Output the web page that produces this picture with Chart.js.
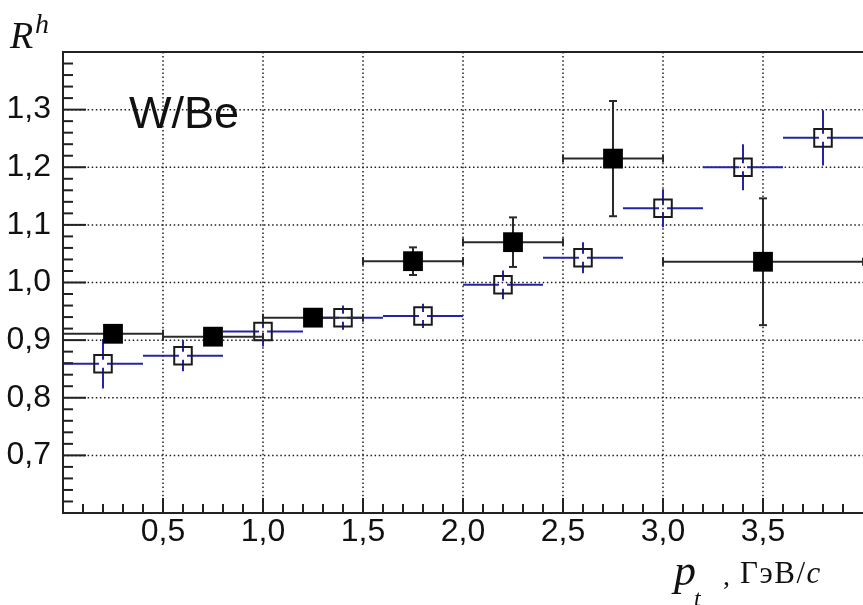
<!DOCTYPE html>
<html>
<head>
<meta charset="utf-8">
<title>R^h W/Be</title>
<script src="https://cdn.jsdelivr.net/npm/chart.js@4.4.1/dist/chart.umd.min.js"></script>
<style>
  body { margin: 0; background: #fff; overflow: hidden; }
  #wrap { position: relative; width: 863px; height: 605px; overflow: hidden; }
  .t { position: absolute; white-space: nowrap; line-height: 1; color: #111; }
  .serif { font-family: 'Liberation Serif', 'DejaVu Serif', serif; }
  .sans { font-family: 'Liberation Sans', Arial, sans-serif; }
  i { font-style: italic; }
</style>
</head>
<body>
<div id="wrap">
  <canvas id="rhChart" width="863" height="605"></canvas>
  <div class="t serif" style="left:10px;top:16px;font-size:38px;"><i>R</i></div>
  <div class="t serif" style="left:35px;top:10px;font-size:28px;"><i>h</i></div>
  <div class="t sans" style="left:129px;top:90px;font-size:45px;">W/Be</div>
  <div class="t serif" style="left:674px;top:549px;font-size:44px;"><i>p</i></div>
  <div class="t serif" style="left:694px;top:586px;font-size:24px;"><i>t</i></div>
  <div class="t serif" style="left:723px;top:562px;font-size:28px;">,</div>
  <div class="t serif" style="left:740px;top:557px;font-size:31px;letter-spacing:1.5px;">ГэВ/<i>c</i></div>
</div>
<script>
// tick labels
const xTicks = [0.5, 1.0, 1.5, 2.0, 2.5, 3.0, 3.5];
const yTicks = [0.7, 0.8, 0.9, 1.0, 1.1, 1.2, 1.3];

// filled squares (black error bars)
const blackX    = [0.25, 0.75, 1.25, 1.75, 2.25, 2.75, 3.5];
const blackXErr = [0.25, 0.25, 0.25, 0.25, 0.25, 0.25, 0.5];
const blackY    = [0.911, 0.906, 0.939, 1.037, 1.070, 1.215, 1.036];
const blackYErr = [0.010, 0.010, 0.010, 0.024, 0.043, 0.100, 0.110];

// open squares (blue error bars)
const blueX    = [0.2, 0.6, 1.0, 1.4, 1.8, 2.2, 2.6, 3.0, 3.4, 3.8];
const blueXErr = [0.2, 0.2, 0.2, 0.2, 0.2, 0.2, 0.2, 0.2, 0.2, 0.2];
const blueY    = [0.859, 0.873, 0.915, 0.939, 0.942, 0.996, 1.043, 1.129, 1.200, 1.251];
const blueYErr = [0.043, 0.027, 0.026, 0.021, 0.021, 0.025, 0.027, 0.033, 0.040, 0.048];

const fmt = v => v.toFixed(1).replace('.', ',');

function seg(ctx, x1, y1, x2, y2) {
  ctx.beginPath();
  ctx.moveTo(x1, y1);
  ctx.lineTo(x2, y2);
  ctx.stroke();
}

const frame = {
  id: 'frame',
  beforeDatasetsDraw(chart) {
    const { ctx, chartArea: a, scales: { x, y } } = chart;
    ctx.save();
    // dotted grid
    ctx.strokeStyle = '#1e1e1e';
    ctx.lineWidth = 1.5;
    ctx.setLineDash([1.5, 2.6]);
    xTicks.forEach(v => { const p = x.getPixelForValue(v); seg(ctx, p, a.top, p, a.bottom); });
    yTicks.forEach(v => { const p = y.getPixelForValue(v); seg(ctx, a.left, p, a.right, p); });
    ctx.setLineDash([]);

    // blue error bars, with a small gap at the hollow marker
    ctx.strokeStyle = '#2424a8';
    ctx.lineWidth = 2;
    const g = 4;
    blueX.forEach((v, i) => {
      const px = x.getPixelForValue(v), py = y.getPixelForValue(blueY[i]);
      const l = x.getPixelForValue(v - blueXErr[i]), r = x.getPixelForValue(v + blueXErr[i]);
      const t = y.getPixelForValue(blueY[i] + blueYErr[i]), b = y.getPixelForValue(blueY[i] - blueYErr[i]);
      seg(ctx, l, py, px - g, py);
      seg(ctx, px + g, py, r, py);
      seg(ctx, px, t, px, py - g);
      seg(ctx, px, py + g, px, b);
    });
    ctx.restore();
  },
  beforeDatasetDraw(chart, args) {
    if (args.index !== 0) return;
    const { ctx, scales: { x, y } } = chart;
    ctx.save();
    ctx.strokeStyle = '#2a2a2a';
    ctx.lineWidth = 2;
    const c = 4;
    blackX.forEach((v, i) => {
      const px = x.getPixelForValue(v), py = y.getPixelForValue(blackY[i]);
      const l = x.getPixelForValue(v - blackXErr[i]), r = x.getPixelForValue(v + blackXErr[i]);
      const t = y.getPixelForValue(blackY[i] + blackYErr[i]), b = y.getPixelForValue(blackY[i] - blackYErr[i]);
      seg(ctx, l, py, r, py);
      seg(ctx, l, py - c, l, py + c);
      seg(ctx, r, py - c, r, py + c);
      seg(ctx, px, t, px, b);
      seg(ctx, px - c, t, px + c, t);
      seg(ctx, px - c, b, px + c, b);
    });
    ctx.restore();
  },
  afterDatasetsDraw(chart) {
    const { ctx, chartArea: a, scales: { x, y } } = chart;
    ctx.save();
    ctx.strokeStyle = '#222';
    ctx.lineWidth = 2;
    // ticks pointing inside
    for (let k = 1; k < 40; k++) {
      const p = x.getPixelForValue(k / 10);
      seg(ctx, p, a.bottom, p, a.bottom - (k % 5 === 0 ? 15 : 9));
    }
    for (let k = 31; k < 70; k++) {
      const p = y.getPixelForValue(k / 50);
      seg(ctx, a.left, p, a.left + (k % 5 === 0 ? 23 : 10), p);
    }
    // frame
    ctx.beginPath();
    ctx.moveTo(a.right + 2, a.top);
    ctx.lineTo(a.left, a.top);
    ctx.lineTo(a.left, a.bottom);
    ctx.lineTo(a.right + 2, a.bottom);
    ctx.stroke();
    ctx.restore();
  }
};

const tickFont = { family: "'Liberation Sans', Arial, sans-serif", size: 32, lineHeight: 1 };

new Chart(document.getElementById('rhChart'), {
  type: 'scatter',
  data: {
    datasets: [
      {
        label: 'filled',
        data: blackX.map((v, i) => ({ x: v, y: blackY[i] })),
        pointStyle: 'rect',
        pointRadius: 14,
        pointHoverRadius: 14,
        backgroundColor: '#000',
        borderColor: '#000',
        borderWidth: 0
      },
      {
        label: 'open',
        data: blueX.map((v, i) => ({ x: v, y: blueY[i] })),
        pointStyle: 'rect',
        pointRadius: 12.4,
        pointHoverRadius: 12.4,
        backgroundColor: 'rgba(0,0,0,0)',
        borderColor: '#1a1a1a',
        borderWidth: 2
      }
    ]
  },
  options: {
    responsive: false,
    animation: false,
    events: [],
    layout: { autoPadding: false, padding: { top: 52, left: 0, right: 0, bottom: 0 } },
    plugins: { legend: { display: false }, tooltip: { enabled: false } },
    scales: {
      x: {
        type: 'linear',
        min: 0,
        max: 4,
        grid: { display: false },
        border: { display: false },
        afterBuildTicks: s => { s.ticks = xTicks.map(v => ({ value: v })); },
        afterFit: s => { s.height = 92; s.paddingLeft = 0; s.paddingRight = 0; },
        ticks: { callback: v => fmt(v), font: tickFont, color: '#111', padding: -5, maxRotation: 0, autoSkip: false }
      },
      y: {
        type: 'linear',
        min: 0.6,
        max: 1.4,
        grid: { display: false },
        border: { display: false },
        afterBuildTicks: s => { s.ticks = yTicks.map(v => ({ value: v })); },
        afterFit: s => { s.width = 63; s.paddingTop = 0; s.paddingBottom = 0; },
        ticks: { callback: v => fmt(v), font: tickFont, color: '#111', padding: 4, autoSkip: false }
      }
    }
  },
  plugins: [frame]
});
</script>
</body>
</html>
